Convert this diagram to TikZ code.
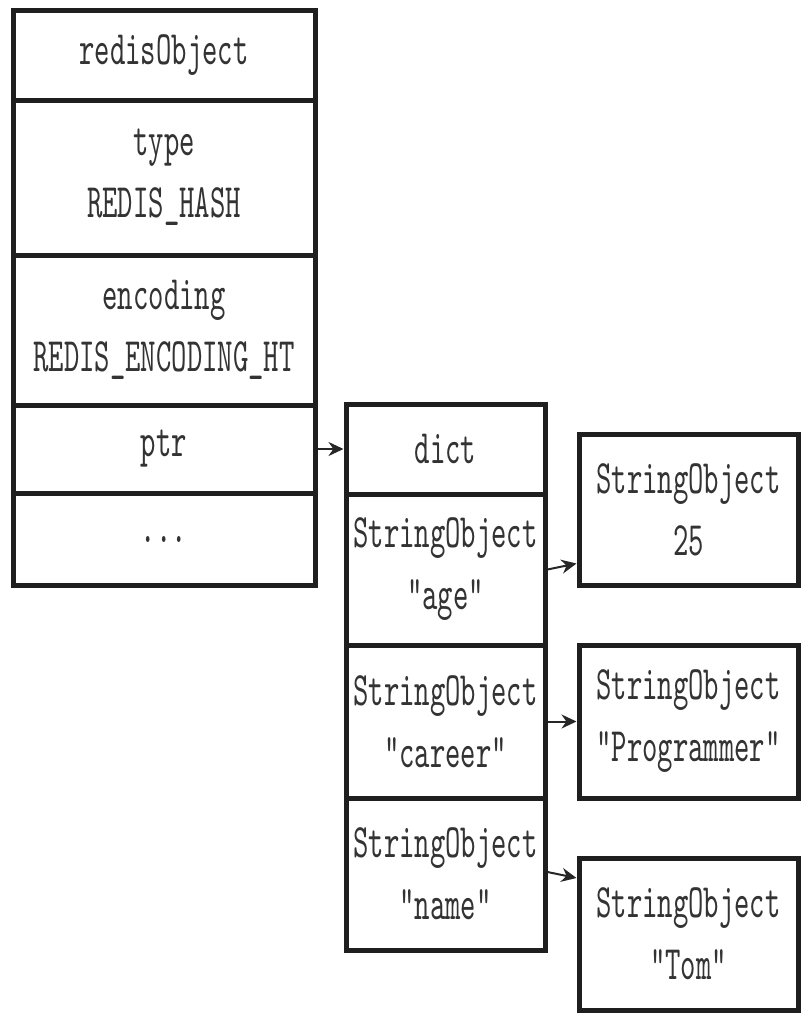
\documentclass[tikz,border=0pt]{standalone}
\usepackage{fontspec}
\setmonofont[FakeStretch=0.61]{lmmono10-regular.otf}
\usetikzlibrary{arrows.meta}

\begin{document}
\begin{tikzpicture}[x=1pt,y=-1pt,
  cell/.style={draw=black!88, line width=5pt, fill=white, inner sep=0pt, align=center,
    text=black!80, font=\ttfamily\fontsize{48}{62}\selectfont},
  link/.style={-{Stealth[length=15pt,width=14pt]}, line width=2pt, draw=black!85}]
\useasboundingbox (0,0) rectangle (811,1023);

% redisObject
\node[cell, minimum width=302, minimum height=90] (0) at (164,55) {redisObject};
\node[cell, minimum width=302, minimum height=155] (1) at (164,177.5) {type\\REDIS\_HASH};
\node[cell, minimum width=302, minimum height=150] (2) at (164,330) {encoding\\REDIS\_ENCODING\_HT};
\node[cell, minimum width=302, minimum height=88] (3) at (164,449) {ptr};
\node[cell, minimum width=302, minimum height=92] (4) at (164,539) {...};

% dict
\node[cell, minimum width=199, minimum height=90] (5) at (445.5,449) {dict};
\node[cell, minimum width=199, minimum height=151] (6) at (445.5,569.5) {StringObject\\"age"};
\node[cell, minimum width=199, minimum height=153] (7) at (445.5,721.5) {StringObject\\"career"};
\node[cell, minimum width=199, minimum height=152] (8) at (445.5,874) {StringObject\\"name"};

% values
\node[cell, minimum width=219, minimum height=151] (9) at (688.5,509.5) {StringObject\\25};
\node[cell, minimum width=219, minimum height=153] (10) at (688.5,721.5) {StringObject\\"Programmer"};
\node[cell, minimum width=219, minimum height=152] (11) at (688.5,934) {StringObject\\"Tom"};

\draw[link] (3.east) -- (5.west);
\draw[link] (6.east) -- ([yshift=6pt]6.east -| 9.west);
\draw[link] (7.east) -- (10.west);
\draw[link] ([yshift=2pt]8.east) -- ([yshift=-4pt]8.east -| 11.west);
\end{tikzpicture}
\end{document}
